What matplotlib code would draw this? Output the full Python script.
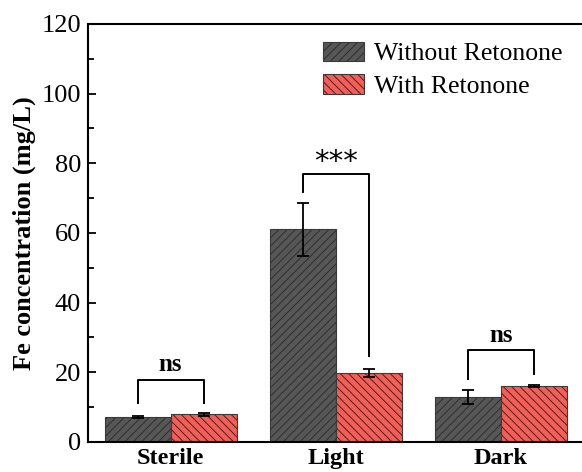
import matplotlib.pyplot as plt
import numpy as np

plt.rcParams['font.family'] = ['Liberation Serif', 'DejaVu Serif']
plt.rcParams['hatch.linewidth'] = 0.7

groups = ["Sterile", "Light", "Dark"]
without_mean = [7.1, 61.0, 13.0]
without_err = [0.3, 7.5, 2.0]
with_mean = [8.0, 19.8, 16.0]
with_err = [0.4, 1.2, 0.3]

# significance brackets: (label, bracket top, left leg bottom, right leg bottom)
sig_labels = ["ns", "***", "ns"]
sig_top = [17.8, 76.9, 26.4]
sig_left = [11.1, 71.9, 18.0]
sig_right = [11.3, 24.7, 19.4]

x = np.arange(1, len(groups) + 1)
w = 0.4

fig = plt.figure(figsize=(5.82, 4.72), dpi=100)
ax = fig.add_axes([0.1512, 0.0636, 0.8514, 0.8856])

b1 = ax.bar(x - w/2, without_mean, w, color='#575757', edgecolor='#3a3a3a',
            hatch='////', linewidth=0.8, label='Without Retonone')
b2 = ax.bar(x + w/2, with_mean, w, color='#f0605a', edgecolor='#3a3a3a',
            hatch='\\\\\\\\', linewidth=0.8, label='With Retonone')
for b in b1:
    b._hatch_color = (0.18, 0.18, 0.18, 1)
for b in b2:
    b._hatch_color = (0.35, 0.1, 0.08, 1)

ax.errorbar(x - w/2, without_mean, yerr=without_err, fmt='none', ecolor='black',
            elinewidth=1.3, capsize=4, capthick=1.3)
ax.errorbar(x + w/2, with_mean, yerr=with_err, fmt='none', ecolor='black',
            elinewidth=1.3, capsize=4, capthick=1.3)

for i in range(len(groups)):
    xl = x[i] - w/2
    xr = x[i] + w/2
    ax.plot([xl, xl, xr, xr], [sig_left[i], sig_top[i], sig_top[i], sig_right[i]],
            color='black', lw=1.4)
    if sig_labels[i] == "***":
        ax.text(x[i], sig_top[i] - 0.4, sig_labels[i], ha='center', va='bottom',
                fontsize=21, family='DejaVu Sans')
    else:
        ax.text(x[i], sig_top[i] + 1.0, sig_labels[i], ha='center', va='bottom',
                fontsize=18, fontweight='bold')

ax.set_xlim(0.5, 3.5)
ax.set_ylim(0, 120)
ax.set_yticks(np.arange(0, 121, 20))
ax.set_yticks(np.arange(10, 120, 20), minor=True)
ax.set_xticks(x)
ax.set_xticklabels(groups, fontsize=17.5, fontweight='bold')
ax.tick_params(axis='y', which='major', labelsize=19, length=6, width=1.3,
               direction='in', pad=5)
ax.tick_params(axis='y', which='minor', length=4, width=1.3, direction='in')
ax.tick_params(axis='x', length=0, pad=4)
for s in ax.spines.values():
    s.set_linewidth(1.5)

ax.set_ylabel("Fe concentration (mg/L)", fontsize=19, fontweight='bold', labelpad=4)

ax.legend(loc='upper left', bbox_to_anchor=(0.474, 0.958), frameon=False,
          fontsize=18.5, borderpad=0, borderaxespad=0,
          handlelength=1.6, handleheight=0.78, handletextpad=0.38,
          labelspacing=0.36)

fig.savefig('out.png', dpi=100)
